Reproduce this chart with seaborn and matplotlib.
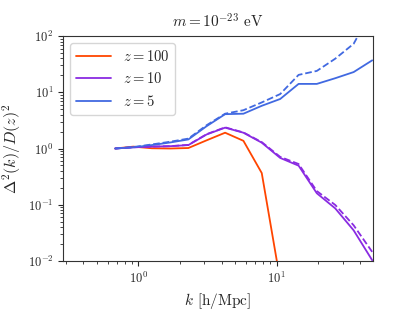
import numpy as np
import pandas as pd
import seaborn as sns
from matplotlib import pyplot as plt

# wavenumbers [h/Mpc]
k = [0.68, 0.92, 1.25, 1.70, 2.30, 3.12, 4.24, 5.75, 7.80, 10.6, 14.4, 19.5, 26.5, 36.0, 49.0]

# Delta^2(k)/D(z)^2, solid = simulation, dashed = comparison
z100 = [1.0, 1.08, 1.01, 1.0, 1.02, 1.40, 1.91, 1.37, 0.366, 0.0045,
        np.nan, np.nan, np.nan, np.nan, np.nan]
z10 = [1.0, 1.05, 1.08, 1.10, 1.15, 1.78, 2.35, 1.91, 1.27, 0.68, 0.495, 0.16, 0.086, 0.035, 0.0103]
z10_dash = [1.0, 1.05, 1.08, 1.10, 1.16, 1.80, 2.38, 1.93, 1.30, 0.71, 0.53, 0.175, 0.099, 0.043, 0.0145]
z5 = [1.0, 1.05, 1.15, 1.28, 1.45, 2.5, 4.08, 4.16, 5.75, 7.6, 14.1, 14.1, 17.8, 22.9, 37.0]
z5_dash = [1.0, 1.06, 1.18, 1.32, 1.50, 2.6, 4.16, 4.8, 6.6, 9.3, 20.4, 24.0, 39.6, 73.0, 290.0]

labels = [r'$z = 100$', r'$z = 10$', r'$z = 5$']
colors = ['#ff4500', '#8a2be2', '#4169e1']

sns.set_style('ticks')
plt.rcParams['font.family'] = 'serif'
plt.rcParams['font.serif'] = ['cmr10', 'DejaVu Serif']
plt.rcParams['mathtext.fontset'] = 'cm'
plt.rcParams['axes.unicode_minus'] = False
plt.rcParams['axes.formatter.use_mathtext'] = True

fig = plt.figure(figsize=(4.15, 3.11), dpi=100)
ax = fig.add_axes([0.152, 0.161, 0.746, 0.723])

df = pd.DataFrame({'k': k, 'z100': z100, 'z10': z10, 'z10d': z10_dash,
                   'z5': z5, 'z5d': z5_dash})

for col, lab, c in zip(['z100', 'z10', 'z5'], labels, colors):
    sns.lineplot(data=df, x='k', y=col, ax=ax, color=c, lw=1.3, label=lab,
                 estimator=None, sort=False)
for col, c in zip(['z10d', 'z5d'], colors[1:]):
    sns.lineplot(data=df, x='k', y=col, ax=ax, color=c, lw=1.3, ls='--',
                 estimator=None, sort=False)

ax.set_xscale('log')
ax.set_yscale('log')
ax.set_xlim(0.286, 49.4)
ax.set_ylim(1e-2, 1e2)
ax.set_xlabel(r'$k$ [h/Mpc]', fontsize=11)
ax.set_ylabel(r'$\Delta^2(k)/D(z)^2$', fontsize=11.5, labelpad=3)
ax.set_title(r'$m = 10^{-23}$ eV', fontsize=11)
ax.tick_params(labelsize=9)
for s in ax.spines.values():
    s.set_visible(True)
    s.set_color('#333333')

ax.legend(loc='upper left', fontsize=10.5, frameon=True, fancybox=True,
          handlelength=2.4)

plt.savefig('out.png', dpi=100)
